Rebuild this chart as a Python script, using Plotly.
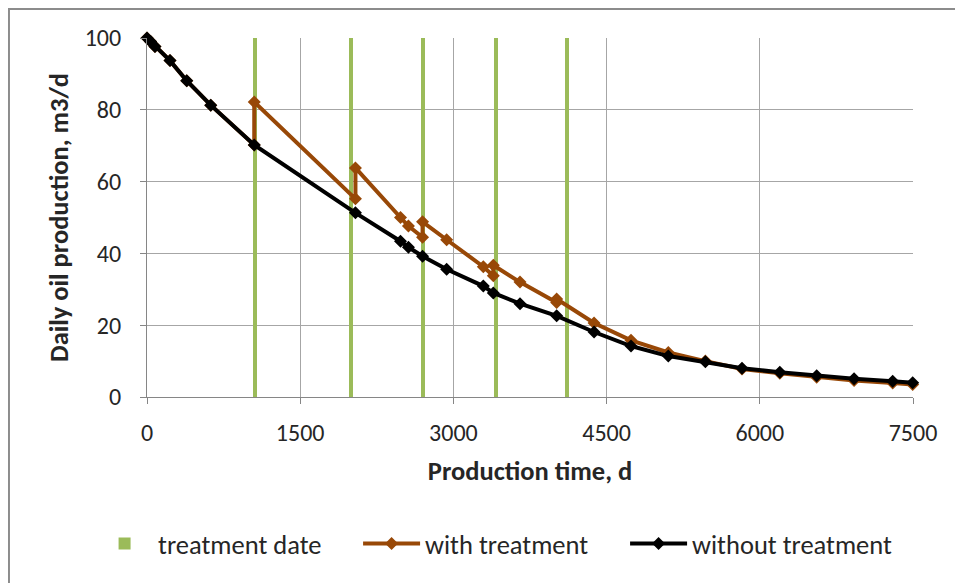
import plotly.graph_objects as go

# ---- data ----
treatment_dates = [1055, 2000, 2700, 3415, 4110]
treatment_height = [100, 100, 100, 100, 100]

time_without = [0, 35, 78, 225, 389, 624, 1050, 2041, 2482, 2560, 2698, 2934,
                3293, 3391, 3652, 4011, 4377, 4739, 5104, 5467, 5826, 6196,
                6557, 6923, 7301, 7497]
oil_without = [100, 99, 97.6, 93.7, 88.1, 81.3, 70.2, 51.3, 43.4, 41.7, 39.2,
               35.6, 30.9, 29.0, 26.0, 22.6, 18.1, 14.2, 11.4, 9.8, 8.0, 6.9,
               5.9, 5.1, 4.4, 4.0]

time_with = [0, 35, 78, 225, 389, 624, 1050, 1050, 2041, 2041, 2482, 2560,
             2698, 2698, 2934, 3293, 3391, 3391, 3652, 4011, 4011, 4377, 4739,
             5104, 5467, 5826, 6196, 6557, 6923, 7301, 7497]
oil_with = [100, 99, 97.6, 93.7, 88.1, 81.3, 70.2, 82.2, 55.2, 63.8, 50.0,
            47.6, 44.5, 48.8, 43.8, 36.3, 33.8, 36.7, 32.0, 26.3, 27.3, 20.6,
            15.8, 12.4, 10.0, 7.8, 6.6, 5.5, 4.6, 3.9, 3.5]

x_ticks = [0, 1500, 3000, 4500, 6000, 7500]
y_ticks = [0, 20, 40, 60, 80, 100]

FONT = "Carlito, Calibri, Lato, sans-serif"
TXT = "#262626"

fig = go.Figure()
fig.add_trace(go.Bar(
    x=treatment_dates, y=treatment_height, width=38,
    marker=dict(color="#9BBB59", line=dict(width=0)),
    name="treatment date"))
fig.add_trace(go.Scatter(
    x=time_with, y=oil_with, mode="lines+markers", name="with treatment",
    line=dict(color="#984807", width=4),
    marker=dict(symbol="diamond", size=10, color="#984807"),
    cliponaxis=False))
fig.add_trace(go.Scatter(
    x=time_without, y=oil_without, mode="lines+markers", name="without treatment",
    line=dict(color="#000000", width=4),
    marker=dict(symbol="diamond", size=10, color="#000000"),
    cliponaxis=False))

fig.update_layout(
    width=955, height=575,
    margin=dict(l=139, r=50, t=30, b=186),
    paper_bgcolor="white", plot_bgcolor="white",
    font=dict(family=FONT, size=24, color=TXT),
    showlegend=True,
    legend=dict(orientation="h", x=-0.073, y=-0.409, xanchor="left",
                yanchor="middle", font=dict(size=26.5, color=TXT),
                itemwidth=57, entrywidth=195, traceorder="normal",
                bgcolor="rgba(0,0,0,0)"),
    bargap=0,
    shapes=[dict(type="rect", xref="paper", yref="paper",
                 x0=-0.1802, x1=1.1, y0=-0.6, y1=1.081,
                 line=dict(color="#8C8C8C", width=2), layer="below")],
)
fig.update_xaxes(
    range=[0, 7500], tickvals=x_ticks, ticktext=[str(v) for v in x_ticks],
    showgrid=True, gridcolor="#A6A6A6", gridwidth=1,
    showline=True, linecolor="#868686", linewidth=1,
    ticks="outside", ticklen=6, tickcolor="#868686",
    ticklabelstandoff=8, zeroline=False,
    tickfont=dict(size=24),
    title=dict(text="<b>Production time, d</b>", font=dict(size=26.5, color=TXT),
               standoff=15))
fig.update_yaxes(
    range=[0, 100], tickvals=y_ticks, ticktext=[str(v) for v in y_ticks],
    showgrid=True, gridcolor="#A6A6A6", gridwidth=1,
    showline=True, linecolor="#868686", linewidth=1,
    ticks="outside", ticklen=6, tickcolor="#868686",
    ticklabelstandoff=14, zeroline=False,
    tickfont=dict(size=24),
    title=dict(text="<b>Daily oil production, m3/d</b>", font=dict(size=26.5, color=TXT),
               standoff=8))

fig.write_html("out.html")
